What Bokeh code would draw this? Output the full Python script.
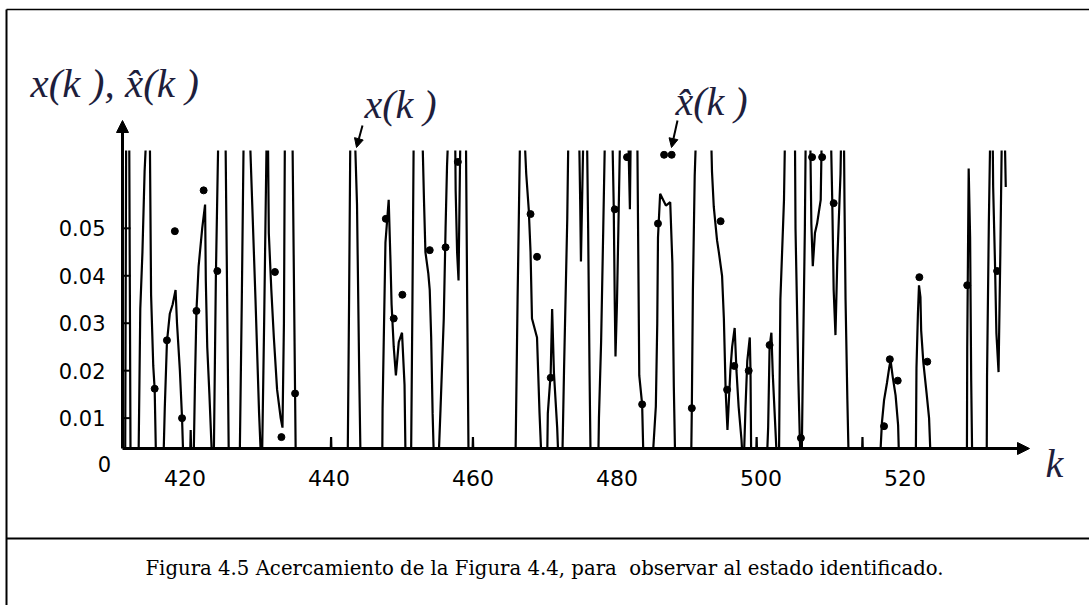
from bokeh.plotting import figure
from bokeh.models import Range1d, Label, Arrow, NormalHead
from bokeh.embed import file_html
from bokeh.resources import INLINE

# ---- data ----
# x(k): polyline vertices (k, value); values above 0.066 / below 0.004 run off the visible area
k_x = [411.53, 411.9, 412.05, 412.45, 412.65, 413.75, 414.0, 414.3, 414.6, 415.0, 415.3, 415.5, 415.8, 416.0, 416.2,
       417.2, 417.4, 417.7, 418.1, 418.5, 418.9, 419.1, 419.5, 419.8, 420.0, 420.9, 421.0, 421.1, 421.4, 421.6,
       421.8, 422.1, 422.6, 423.0, 423.1, 423.3, 423.6, 424.0, 424.2, 424.5, 424.9, 425.8, 426.3, 427.8, 428.1,
       428.4, 429.1, 429.55, 430.0, 430.5, 430.8, 430.9, 431.2, 431.6, 431.7, 431.85, 432.2, 432.55, 433.0, 433.5,
       433.75, 433.95, 434.1, 435.1, 435.5, 435.6, 440.4, 440.5, 440.6, 442.8, 443.0, 443.2, 443.7, 444.1, 444.4,
       444.6, 447.6, 447.65, 448.05, 448.5, 448.75, 448.9, 449.2, 449.5, 449.9, 450.35, 450.7, 450.85, 451.6, 451.8,
       452.0, 453.1, 453.4, 453.6, 454.0, 454.2, 454.4, 454.6, 454.8, 455.4, 455.7, 456.15, 456.4, 456.6, 456.9,
       457.7, 457.8, 458.0, 458.2, 458.5, 459.2, 459.4, 459.6, 460.1, 460.2, 460.3, 466.1, 466.4, 466.8, 467.2,
       467.6, 467.95, 468.2, 468.4, 469.1, 469.45, 469.75, 470.5, 470.6, 471.0, 471.2, 471.45, 471.9, 472.1, 472.6,
       472.85, 473.3, 473.5, 474.9, 475.1, 475.2, 475.6, 476.0, 476.2, 476.4, 476.55, 477.6, 477.7, 478.0, 478.3,
       478.6, 479.5, 479.75, 479.9, 480.0, 480.2, 480.4, 480.7, 481.7, 482.0, 482.15, 483.0, 483.3, 483.7, 483.9,
       485.1, 485.6, 485.8, 485.9, 486.2, 487.0, 487.6, 487.9, 488.1, 488.3, 490.5, 490.6, 490.75, 491.0, 491.3,
       493.2, 493.4, 493.65, 494.1, 494.35, 494.8, 495.05, 495.3, 495.55, 495.95, 496.2, 496.55, 496.8, 497.1, 497.5,
       497.7, 497.8, 498.05, 498.3, 498.65, 498.75, 498.85, 499.5, 499.6, 499.7, 501.0, 501.2, 501.4, 501.65, 501.85,
       502.2, 502.45, 502.7, 502.8, 502.9, 503.4, 503.6, 504.9, 505.0, 505.4, 505.6, 505.75, 505.85, 506.0, 506.3,
       506.45, 507.0, 507.2, 507.4, 507.7, 508.0, 508.5, 508.7, 509.85, 510.1, 510.3, 510.55, 510.8, 511.25, 511.4,
       511.7, 511.8, 511.95, 512.2, 512.4, 514.2, 514.3, 514.4, 516.7, 517.0, 517.3, 517.7, 518.0, 518.2, 518.5,
       518.9, 519.25, 519.4, 521.7, 521.8, 522.0, 522.15, 522.35, 522.45, 522.75, 523.2, 523.55, 523.8, 528.8, 528.85,
       529.05, 529.25, 529.4, 529.55, 531.55, 531.6, 531.85, 532.1, 532.35, 532.45, 532.7, 532.9, 533.2, 533.45, 533.7,
       534.0, 534.2]
x_vals = [0.0, 0.0, 0.075, 0.075, 0.0, 0.0, 0.033, 0.045, 0.062, 0.075, 0.075, 0.036, 0.021, 0.016, 0.0,
          0.0, 0.012, 0.026, 0.032, 0.034, 0.037, 0.030, 0.020, 0.010, 0.0, 0.0, 0.0075, 0.0, 0.0, 0.018,
          0.0326, 0.042, 0.050, 0.055, 0.039, 0.025, 0.015, 0.0, 0.0, 0.040, 0.075, 0.075, 0.0, 0.0, 0.035,
          0.075, 0.075, 0.055, 0.035, 0.011, 0.0, 0.0, 0.030, 0.075, 0.075, 0.049, 0.037, 0.027, 0.016, 0.010,
          0.008, 0.030, 0.075, 0.075, 0.015, 0.0, 0.0, 0.006, 0.0, 0.0, 0.035, 0.075, 0.075, 0.055, 0.020,
          0.0, 0.0, 0.012, 0.047, 0.056, 0.043, 0.034, 0.025, 0.019, 0.026, 0.028, 0.017, 0.0, 0.0, 0.035,
          0.075, 0.075, 0.056, 0.045, 0.0405, 0.037, 0.027, 0.011, 0.0, 0.0, 0.012, 0.031, 0.050, 0.063, 0.075,
          0.075, 0.058, 0.045, 0.039, 0.075, 0.075, 0.035, 0.0, 0.0, 0.006, 0.0, 0.0, 0.035, 0.075, 0.075,
          0.0615, 0.054, 0.045, 0.031, 0.027, 0.011, 0.0, 0.0, 0.011, 0.0195, 0.033, 0.0195, 0.008, 0.0, 0.0,
          0.020, 0.052, 0.075, 0.075, 0.055, 0.043, 0.075, 0.075, 0.050, 0.019, 0.0, 0.0, 0.010, 0.026, 0.050,
          0.075, 0.075, 0.055, 0.034, 0.023, 0.034, 0.050, 0.075, 0.075, 0.054, 0.075, 0.075, 0.019, 0.0129, 0.0,
          0.0, 0.0124, 0.030, 0.048, 0.0573, 0.0548, 0.0555, 0.0426, 0.0166, 0.0, 0.0, 0.0121, 0.037, 0.061, 0.075,
          0.075, 0.062, 0.0545, 0.0475, 0.045, 0.040, 0.031, 0.0157, 0.0075, 0.020, 0.025, 0.029, 0.020, 0.0124, 0.0054,
          0.0, 0.0, 0.012, 0.022, 0.027, 0.020, 0.0, 0.0, 0.006, 0.0, 0.0, 0.008, 0.025, 0.028, 0.019,
          0.008, 0.0, 0.0, 0.019, 0.035, 0.056, 0.075, 0.075, 0.050, 0.018, 0.0056, 0.0, 0.0, 0.018, 0.050,
          0.075, 0.075, 0.051, 0.042, 0.049, 0.051, 0.056, 0.075, 0.075, 0.056, 0.037, 0.0275, 0.043, 0.0615, 0.075,
          0.075, 0.056, 0.035, 0.014, 0.0, 0.0, 0.006, 0.0, 0.0, 0.009, 0.0138, 0.0174, 0.0205, 0.0222, 0.0187,
          0.0148, 0.0085, 0.0, 0.0, 0.0205, 0.032, 0.038, 0.0355, 0.0285, 0.0218, 0.0153, 0.010, 0.0, 0.0, 0.025,
          0.0626, 0.048, 0.018, 0.0, 0.0, 0.0186, 0.051, 0.075, 0.075, 0.0587, 0.043, 0.0279, 0.0197, 0.045, 0.075,
          0.075, 0.0587]

# x-hat(k): identified state, plotted as dots
k_hat = [416.0, 417.7, 418.8, 419.8, 421.8, 422.8, 424.7, 432.7, 433.6, 435.5, 448.1, 449.2, 450.4, 454.2,
         456.4, 458.1, 468.2, 469.1, 471.0, 479.9, 481.6, 483.7, 485.9, 486.75, 487.8, 490.6, 494.6, 495.5,
         496.5, 498.5, 501.4, 505.75, 507.3, 508.7, 510.3, 517.3, 518.1, 519.2, 522.2, 523.3, 528.85, 533.0]
x_hat = [0.0162, 0.0264, 0.0494, 0.010, 0.0326, 0.058, 0.041, 0.0408, 0.006, 0.0152, 0.052, 0.031, 0.036, 0.0454,
         0.046, 0.064, 0.053, 0.044, 0.0185, 0.054, 0.065, 0.0129, 0.051, 0.0655, 0.0655, 0.0121, 0.0515, 0.016,
         0.021, 0.020, 0.0254, 0.0058, 0.065, 0.065, 0.0553, 0.0083, 0.0224, 0.0179, 0.0397, 0.0219, 0.038, 0.041]

x_ticks = [420, 440, 460, 480, 500, 520]
x_tick_labels = ["420", "440", "460", "480", "500", "520"]
y_ticks = [0.01, 0.02, 0.03, 0.04, 0.05]
y_tick_labels = ["0.01", "0.02", "0.03", "0.04", "0.05"]
caption = "Figura 4.5 Acercamiento de la Figura 4.4, para\u00a0 observar al estado identificado."

# ---- geometry of the plotting window (visible window of the chart) ----
K0, K1 = 411.53, 535.97          # k span of the axis box
V0, V1 = 0.0036, 0.0664          # value span of the axis box (clip window)
W, H = 1089, 605
L, R, T, B = 122, 71, 150, 157   # margins around the axis box, px
sx = (W - L - R) / (K1 - K0)     # px per k
sy = (H - T - B) / (V1 - V0)     # px per value unit

p = figure(width=W, height=H, output_backend="svg", toolbar_location=None,
           x_range=Range1d(K0 - L / sx, K1 + R / sx),
           y_range=Range1d(V0 - B / sy, V1 + T / sy),
           min_border=0, x_axis_location=None, y_axis_location=None)
p.outline_line_color = None
p.xgrid.visible = False
p.ygrid.visible = False
p.background_fill_color = "white"
p.border_fill_color = "white"

# data
p.line(k_x, x_vals, line_color="black", line_width=2.2)
p.scatter(k_hat, x_hat, size=7, color="black")

# white masks: the chart cuts the curve off above the top of the box and below the axis
p.quad(left=[K0 - 30, K0 - 30], right=[K1 + 30, K1 + 30],
       bottom=[V1, V0 - 0.1], top=[V1 + 0.1, V0],
       fill_color="white", line_color=None, level="guide")

# axes
head = lambda s: NormalHead(size=s, fill_color="black", line_color="black", line_width=1)
p.add_layout(Arrow(end=head(12), x_start=K0, y_start=V0, x_end=K0, y_end=V1 + 30 / sy,
                   line_color="black", line_width=3))
p.add_layout(Arrow(end=head(12), x_start=K0, y_start=V0, x_end=K1 + 11 / sx, y_end=V0,
                   line_color="black", line_width=3))
p.segment(x0=[K0] * len(y_ticks), y0=y_ticks, x1=[K0 + 8 / sx] * len(y_ticks), y1=y_ticks,
          line_color="black", line_width=2, level="overlay")

for t, s in zip(y_ticks, y_tick_labels):
    p.add_layout(Label(x=K0 - 17 / sx, y=t, text=s, text_font="DejaVu Sans", text_font_size="21px",
                       text_align="right", text_baseline="middle", text_color="black"))
for t, s in zip(x_ticks, x_tick_labels):
    p.add_layout(Label(x=t + 1.5 / sx, y=V0 - 29 / sy, text=s, text_font="DejaVu Sans", text_font_size="22px",
                       text_align="center", text_baseline="middle", text_color="black"))
p.add_layout(Label(x=K0 - 18 / sx, y=V0 - 15 / sy, text="0", text_font="DejaVu Sans", text_font_size="21px",
                   text_align="center", text_baseline="middle", text_color="black"))

# pointer arrows to the curves
p.add_layout(Arrow(end=head(9), x_start=K0 + 240 / sx, y_start=V1 + 25 / sy, x_end=K0 + 234 / sx, y_end=V1 + 3 / sy,
                   line_color="black", line_width=2))
p.add_layout(Arrow(end=head(9), x_start=K0 + 555 / sx, y_start=V1 + 30 / sy, x_end=K0 + 549 / sx, y_end=V1 + 3 / sy,
                   line_color="black", line_width=2))

ink = "#1e1e3c"
def lab(px, py, text, size, align="center"):
    p.add_layout(Label(x=K0 + (px - L) / sx, y=V0 + (H - B - py) / sy, text=text,
                       text_font="Liberation Serif", text_font_size=size, text_font_style="italic",
                       text_align=align, text_baseline="middle", text_color=ink))

lab(30, 82, "x(k ), x\u0302(k )", "41px", align="left")
lab(400, 104, "x(k )", "40px")
lab(711, 101, "x\u0302(k )", "40px")
lab(1054, 463, "k", "40px")

p.add_layout(Label(x=K0 + (544 - L) / sx, y=V0 + (H - B - 568) / sy, text=caption,
                   text_font="DejaVu Serif", text_font_size="19.7px", text_align="center",
                   text_baseline="middle", text_color="black"))

# page frame lines
def seg(x0, y0, x1, y1, w=2):
    p.segment(x0=[K0 + (x0 - L) / sx], y0=[V0 + (H - B - y0) / sy],
              x1=[K0 + (x1 - L) / sx], y1=[V0 + (H - B - y1) / sy],
              line_color="black", line_width=w, level="overlay")

seg(6, 9, 6, 605)
seg(6, 9, 1089, 9, 1.5)
seg(6, 538, 1089, 538)

open("out.html", "w").write(file_html(p, INLINE))
